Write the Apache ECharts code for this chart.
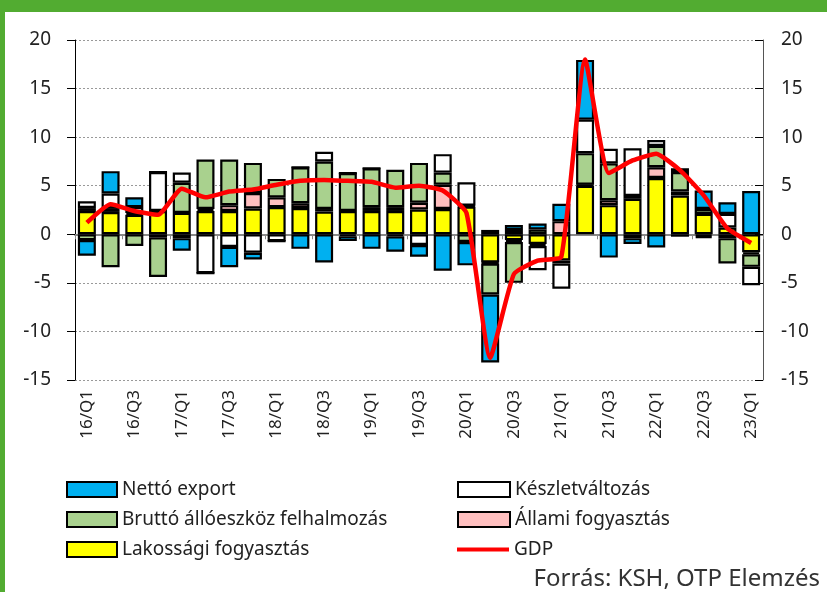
<!DOCTYPE html>
<html><head><meta charset="utf-8">
<script src="https://cdn.jsdelivr.net/npm/echarts@6/dist/echarts.min.js"></script>
<style>html,body{margin:0;padding:0;background:#fff}#c{width:827px;height:592px}</style>
</head><body><div id="c"></div>
<script>
const categories = ['16/Q1','16/Q2','16/Q3','16/Q4','17/Q1','17/Q2','17/Q3','17/Q4','18/Q1','18/Q2','18/Q3','18/Q4','19/Q1','19/Q2','19/Q3','19/Q4','20/Q1','20/Q2','20/Q3','20/Q4','21/Q1','21/Q2','21/Q3','21/Q4','22/Q1','22/Q2','22/Q3','22/Q4','23/Q1'];
const lakossagi = [2.4,2.3,2.0,2.4,2.2,2.4,2.4,2.65,2.8,2.7,2.35,2.4,2.4,2.4,2.55,2.6,2.85,-2.9,-0.6,-1.0,-2.7,5.0,3.0,3.65,5.8,4.0,2.1,0.7,-1.85];
const allami = [0.3,0.4,0.2,-0.3,-0.4,0.2,0.6,1.6,1.0,0.5,0.25,-0.2,0.4,0.4,0.7,2.5,0.1,-0.1,-0.2,-0.2,1.35,0.1,0.5,-0.4,1.1,0.4,-0.2,-0.4,-0.2];
const brutto = [-0.6,-3.4,-1.2,-4.1,3.1,5.1,4.7,3.1,1.9,3.7,4.9,3.9,4.0,3.85,4.1,1.25,-0.8,-3.2,-4.2,0.5,-0.3,3.25,3.8,0.3,2.2,2.0,0.5,-2.6,-1.3];
const keszlet = [0.7,1.5,0.6,4.0,1.05,-4.0,-1.3,-1.9,-0.7,0,1.0,0,0,-0.2,-1.1,1.9,2.4,0.45,0.45,-2.5,-2.6,3.45,1.5,4.9,0.6,-0.25,-0.2,1.4,-1.9];
const netto = [-1.6,2.3,1.0,0,-1.3,0,-2.1,-0.7,0,-1.5,-2.9,-0.5,-1.5,-1.6,-1.2,-3.75,-2.4,-7.0,0.5,0.6,1.8,6.15,-2.4,-0.6,-1.35,0.4,1.9,1.2,4.45];
const gdp = [1.2,3.1,2.4,2.0,4.7,3.8,4.4,4.6,5.1,5.5,5.6,5.5,5.4,4.8,5.0,4.5,2.2,-12.7,-4.1,-2.7,-2.3,18.0,6.3,7.6,8.3,6.6,4.0,0.6,-0.9];
const yTicks = {min:-15, max:20, interval:5};

const FONT = '"Noto Sans", sans-serif';
const chart = echarts.init(document.getElementById('c'), null, {renderer:'canvas'});
function bar(name, data, color){
  return {name, type:'bar', stack:'s', data, barWidth:18, xAxisIndex:0,
    itemStyle:{color, borderColor:'#000', borderWidth:2.2}, emphasis:{disabled:true}, z:3};
}
const yAx = (pos) => ({type:'value', position:pos, min:yTicks.min, max:yTicks.max, interval:yTicks.interval,
  axisLine:{show:true, lineStyle:{color: pos==='left' ? '#000' : '#555', width:1}},
  axisTick:{show:true, inside: pos!=='left', length:8, lineStyle:{color:'#000'}},
  axisLabel:{fontFamily:FONT, fontSize:19, color:'#222', margin: pos==='left'?24:18},
  splitLine:{show: pos==='left', lineStyle:{color:'#999', type:[2,2], width:1}}
});
const legText = {fontFamily:FONT, fontSize:19, color:'#222'};
chart.setOption({
  animation:false,
  grid:{left:75, right:64, top:40, bottom:212},
  legend:[
    {data:['Nettó export','Bruttó állóeszköz felhalmozás','Lakossági fogyasztás'], orient:'vertical', left:61, top:475,
     icon:'rect', itemWidth:50, itemHeight:15, itemGap:11, textStyle:legText, selectedMode:false},
    {data:['Készletváltozás','Állami fogyasztás'], orient:'vertical', left:452, top:475,
     icon:'rect', itemWidth:52, itemHeight:15, itemGap:11, textStyle:legText, selectedMode:false},
    {data:['GDP'], orient:'vertical', left:452, top:535,
     icon:'rect', itemWidth:52, itemHeight:4, textStyle:legText, selectedMode:false}
  ],
  xAxis:[
    {type:'category', data:categories, position:'bottom', axisLine:{onZero:true, lineStyle:{color:'#888', width:2}},
     axisTick:{show:true, length:5, lineStyle:{color:'#888'}}, axisLabel:{show:false}},
    {type:'category', data:categories, position:'bottom', axisLine:{show:false, onZero:false}, axisTick:{show:false},
     axisLabel:{interval:1, rotate:90, fontFamily:FONT, fontSize:17, color:'#222', margin:10}}
  ],
  yAxis:[yAx('left'), yAx('right')],
  series:[
    bar('Lakossági fogyasztás', lakossagi, '#ffff00'),
    bar('Állami fogyasztás', allami, '#ffbfbf'),
    bar('Bruttó állóeszköz felhalmozás', brutto, '#a9d18e'),
    bar('Készletváltozás', keszlet, '#ffffff'),
    bar('Nettó export', netto, '#00b0f0'),
    {name:'GDP', type:'line', data:gdp, symbol:'none', smooth:0.15, lineStyle:{color:'#ff0000', width:4.5},
     itemStyle:{color:'#ff0000', borderWidth:0}, z:10, emphasis:{disabled:true}}
  ],
  graphic:[
    {type:'rect', left:0, top:0, shape:{width:827, height:12}, style:{fill:'#52ac31'}},
    {type:'rect', left:0, top:0, shape:{width:5, height:592}, style:{fill:'#52ac31'}},
    {type:'text', right:7, bottom:1, style:{text:'Forrás: KSH, OTP Elemzés', font:'24px "Noto Sans", sans-serif', fill:'#333'}}
  ]
});
</script></body></html>
